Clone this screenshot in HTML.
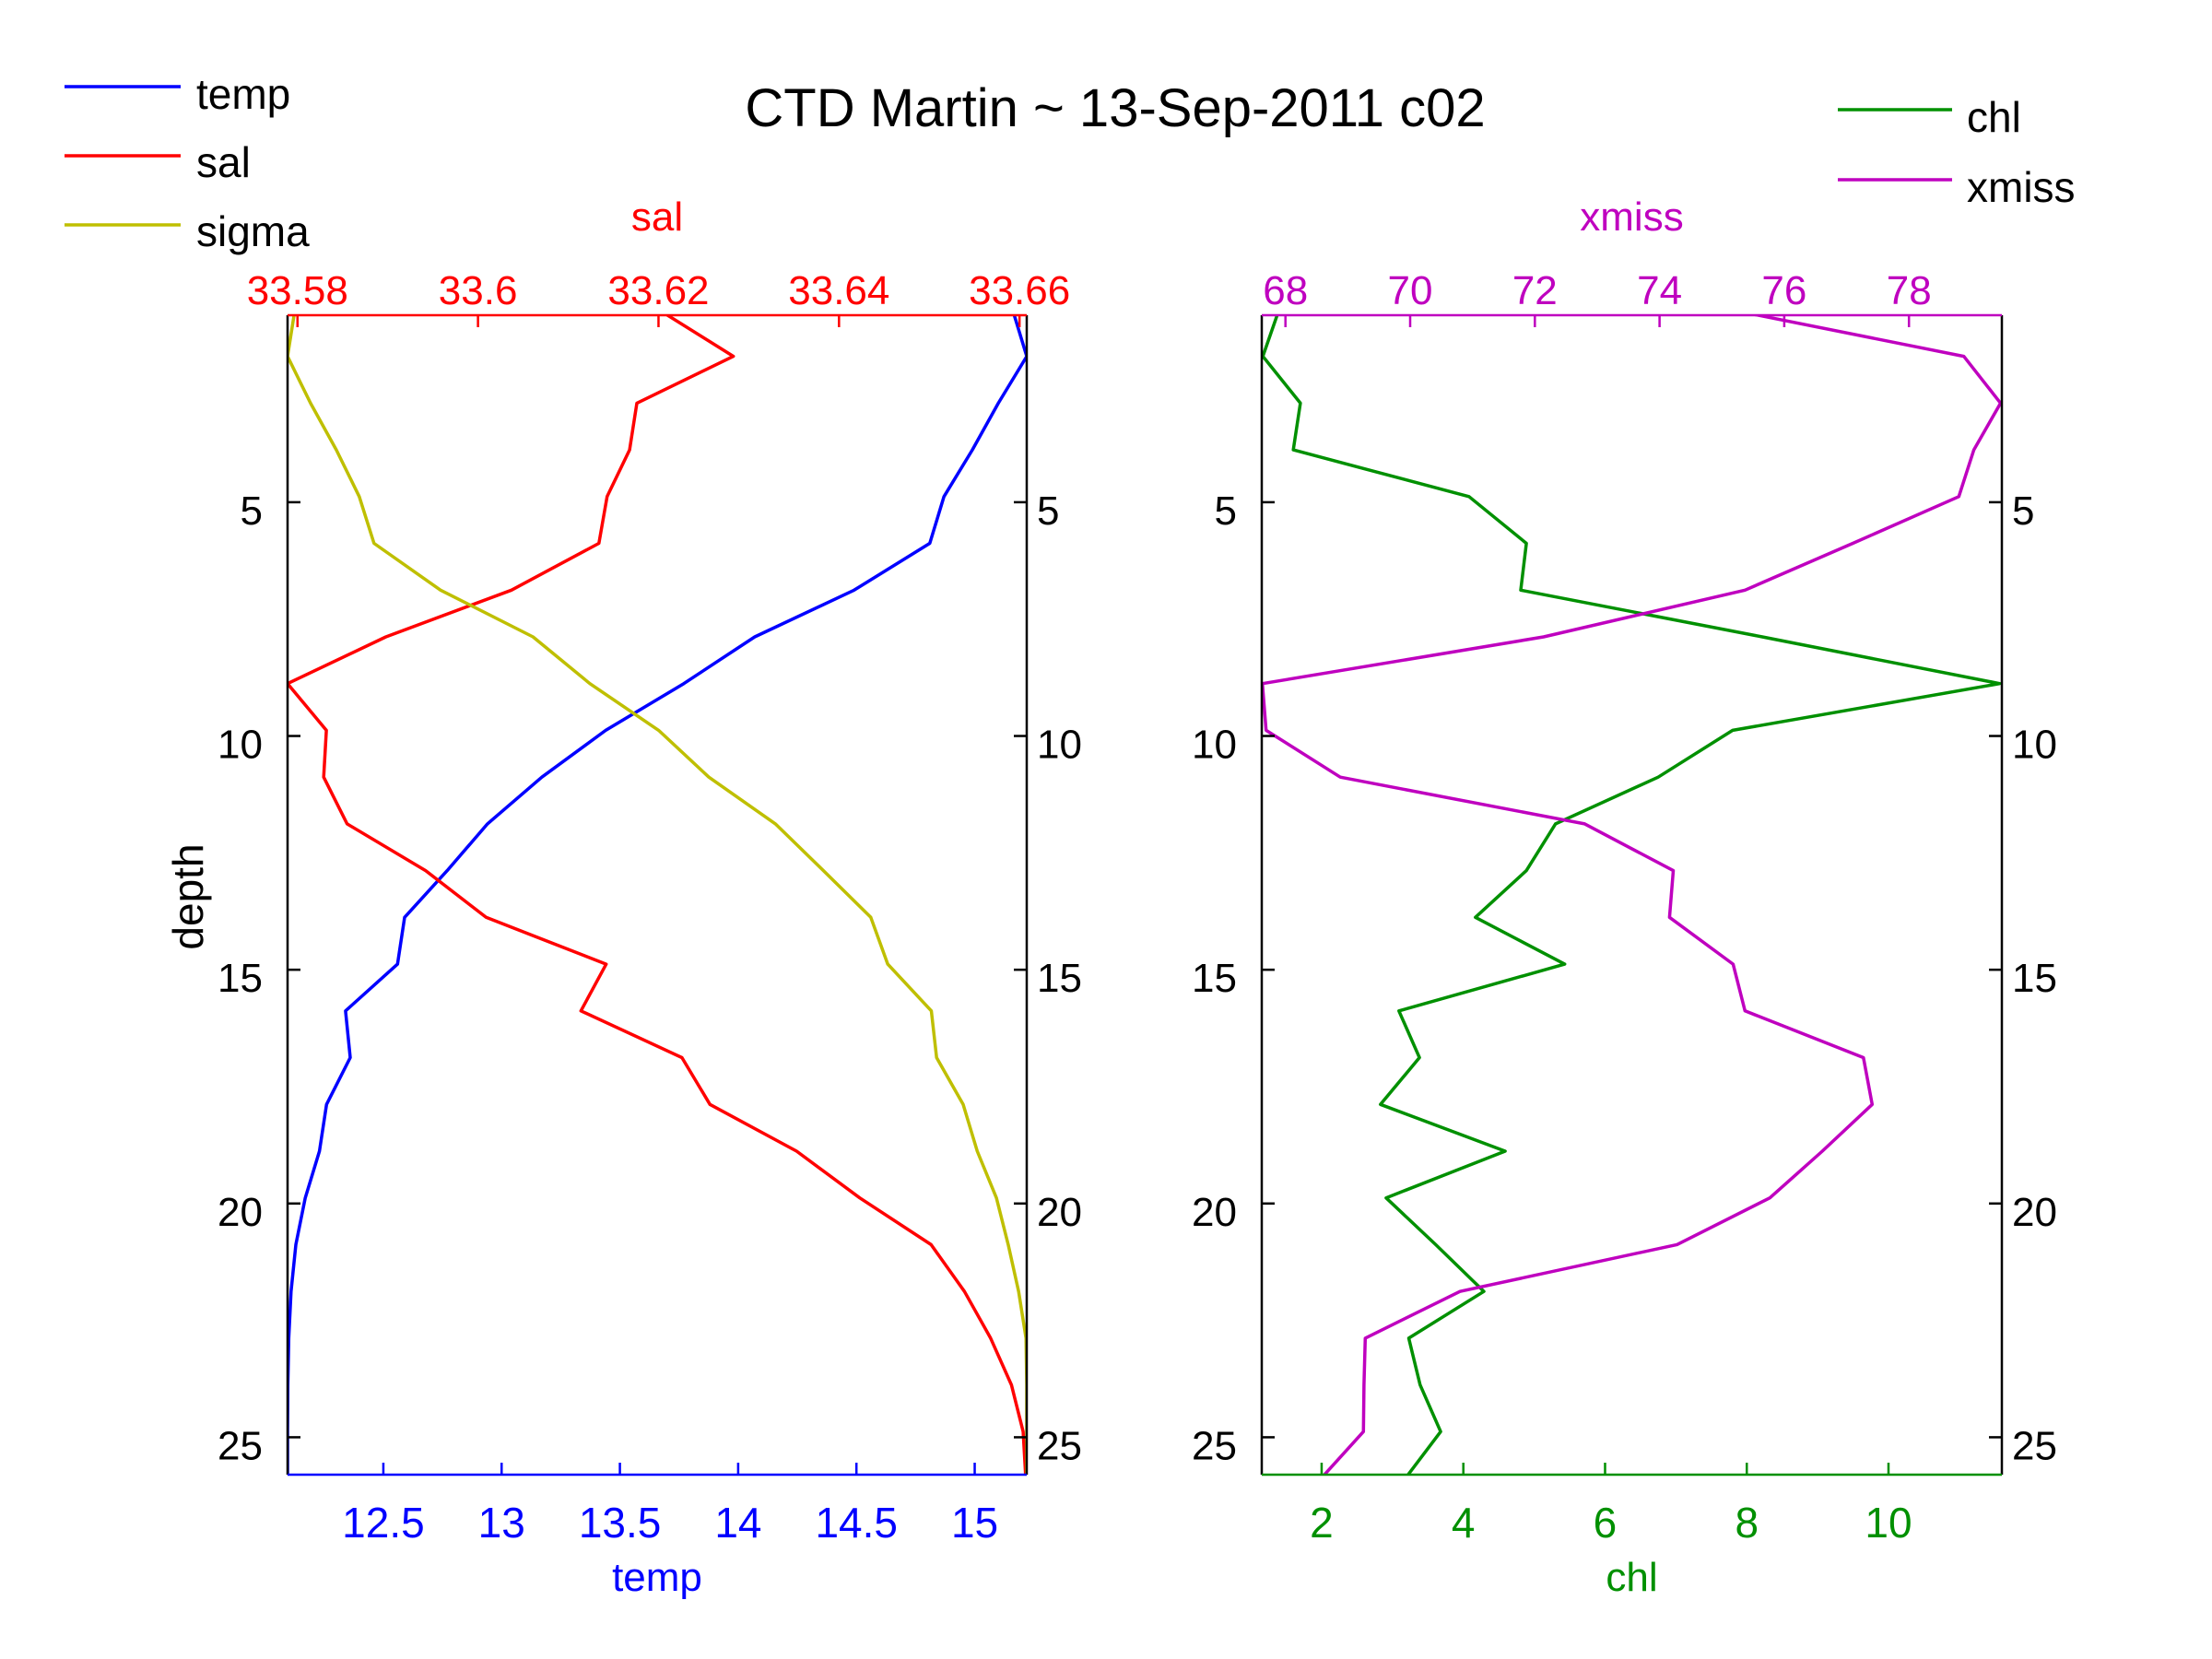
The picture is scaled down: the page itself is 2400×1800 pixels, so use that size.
<!DOCTYPE html>
<html><head><meta charset="utf-8"><style>
html,body{margin:0;padding:0;background:#fff;}
svg{display:block;font-family:"Liberation Sans",sans-serif;}
</style></head><body>
<svg id="chart" width="2400" height="1800" viewBox="0 0 2400 1800" xmlns="http://www.w3.org/2000/svg">
<rect width="2400" height="1800" fill="#fff"/>
<text x="1210" y="137" font-size="58" text-anchor="middle" fill="#000">CTD Martin ~ 13-Sep-2011 c02</text>
<g>
<line x1="70" y1="94" x2="196" y2="94" stroke="#0000ff" stroke-width="3.5"/>
<text x="213" y="118" font-size="46">temp</text>
<line x1="70" y1="169" x2="196" y2="169" stroke="#ff0000" stroke-width="3.5"/>
<text x="213" y="192" font-size="46">sal</text>
<line x1="70" y1="244" x2="196" y2="244" stroke="#bfbf00" stroke-width="3.5"/>
<text x="213" y="267" font-size="46">sigma</text>
</g>
<g>
<line x1="1994" y1="119" x2="2118" y2="119" stroke="#009000" stroke-width="3.5"/>
<text x="2134" y="143" font-size="46">chl</text>
<line x1="1994" y1="195" x2="2118" y2="195" stroke="#bf00bf" stroke-width="3.5"/>
<text x="2134" y="219" font-size="46">xmiss</text>
</g>
<text transform="translate(220,973) rotate(-90)" font-size="46" text-anchor="middle">depth</text>
<g id="plots"></g>
</svg>
<script>
const depthIdx = [1,2,3,4,5,6,7,8,9,10,11,12,13,14,15,16,17,18,19,20,21,22,23,24,25,26];
const temp = [15.16,15.22,15.10,14.99,14.87,14.81,14.49,14.07,13.77,13.44,13.17,12.94,12.77,12.59,12.56,12.34,12.36,12.26,12.23,12.17,12.13,12.11,12.10,12.096,12.095,12.095];
const sal = [33.6200,33.6283,33.6176,33.6168,33.6143,33.6134,33.6037,33.5898,33.5789,33.5832,33.5829,33.5855,33.5942,33.6009,33.6142,33.6114,33.6226,33.6257,33.6353,33.6423,33.6502,33.6539,33.6568,33.6591,33.6604,33.6607];
const sigma = [0.01,0,0.031,0.066,0.097,0.117,0.207,0.332,0.409,0.502,0.57,0.66,0.725,0.789,0.812,0.871,0.878,0.914,0.933,0.959,0.975,0.989,0.999,1.0,1.0,1.0];
const chl = [1.40,1.17,1.70,1.60,4.08,4.89,4.81,8.22,11.57,7.80,6.75,5.30,4.89,4.17,5.43,3.09,3.38,2.83,4.59,2.91,3.61,4.29,3.23,3.39,3.68,3.18];
const xmiss = [75.13,78.88,79.47,79.04,78.80,77.10,75.37,72.14,67.63,67.69,68.88,72.80,74.22,74.16,75.18,75.37,77.27,77.41,76.61,75.77,74.28,70.80,69.28,69.26,69.25,68.57];
const depthTicks = [5,10,15,20,25];
const salTicks = ["33.58","33.6","33.62","33.64","33.66"];
const tempTicks = ["12.5","13","13.5","14","14.5","15"];
const xmissTicks = ["68","70","72","74","76","78"];
const chlTicks = ["2","4","6","8","10"];

const NS = "http://www.w3.org/2000/svg";
const TOP = 342, BOT = 1600, D0 = 1, D1 = 25.8;
const yScale = d => TOP + (d - D0) / (D1 - D0) * (BOT - TOP);
const depth = depthIdx.map(k => k - 0.12);
const root = document.getElementById('plots');
function mk(tag, attrs, parent) {
  const e = document.createElementNS(NS, tag);
  for (const k in attrs) e.setAttribute(k, attrs[k]);
  (parent || root).appendChild(e);
  return e;
}
function panel(name, L, R, topAx, botAx, s1, s2, s3) {
  const g = mk('g', {});
  
  
  const clipId = name + '-clip';
  const cp = mk('clipPath', {id: clipId}, g);
  mk('rect', {x: L, y: TOP, width: R - L, height: BOT - TOP}, cp);
  const series = [s1, s2, s3].filter(Boolean);
  series.forEach(s => {
    const pts = s.vals.map((v, i) => (L + (v - s.lo) / (s.hi - s.lo) * (R - L)).toFixed(1) + ',' + yScale(depth[i]).toFixed(1)).join(' ');
    const pl = mk('polyline', {points: pts, fill: 'none', stroke: s.color, 'stroke-width': 3.5, 'stroke-linejoin': 'round', 'clip-path': 'url(#' + clipId + ')'}, g);
    
    
  });
  const la = mk('line', {x1: L, y1: TOP, x2: L, y2: BOT, stroke: '#000', 'stroke-width': 2.5}, g);
  
  
  const ra = mk('line', {x1: R, y1: TOP, x2: R, y2: BOT, stroke: '#000', 'stroke-width': 2.5}, g);
  
  
  depthTicks.forEach(d => {
    const y = yScale(d);
    mk('line', {x1: L, y1: y, x2: L + 14, y2: y, stroke: '#000', 'stroke-width': 2.5}, g);
    mk('line', {x1: R, y1: y, x2: R - 14, y2: y, stroke: '#000', 'stroke-width': 2.5}, g);
    const t1 = mk('text', {x: L - 27, y: y + 24, 'font-size': 44, 'text-anchor': 'end'}, g);
    t1.textContent = d;
    
    
    const t2 = mk('text', {x: R + 11, y: y + 24, 'font-size': 44}, g);
    t2.textContent = d;
    
    
  });
  [[topAx, TOP, 1], [botAx, BOT, -1]].forEach(([ax, y, dir]) => {
    const al = mk('line', {x1: L, y1: y, x2: R, y2: y, stroke: ax.color, 'stroke-width': 2.5}, g);
    
    
    ax.ticks.forEach(tk => {
      const x = L + (parseFloat(tk) - ax.lo) / (ax.hi - ax.lo) * (R - L);
      mk('line', {x1: x, y1: y, x2: x, y2: y + dir * 13, stroke: ax.color, 'stroke-width': 2.5}, g);
      const t = mk('text', {x: x, y: dir > 0 ? y - 12 : y + 68, 'font-size': dir > 0 ? 44 : 46, 'text-anchor': 'middle', fill: ax.color}, g);
      t.textContent = tk;
      
      
    });
    const tt = mk('text', {x: (L + R) / 2, y: dir > 0 ? 250 : 1726, 'font-size': 44, 'text-anchor': 'middle', fill: ax.color}, g);
    tt.textContent = ax.name;
    
    
  });
}
panel('left-panel', 312, 1114,
  {name: 'sal', color: '#ff0000', lo: 33.5789, hi: 33.6608, ticks: salTicks},
  {name: 'temp', color: '#0000ff', lo: 12.095, hi: 15.22, ticks: tempTicks},
  {name: 'temp', vals: temp, lo: 12.095, hi: 15.22, color: '#0000ff'},
  {name: 'sal', vals: sal, lo: 33.5789, hi: 33.6608, color: '#ff0000'},
  {name: 'sigma', vals: sigma, lo: 0, hi: 1, color: '#bfbf00'});
panel('right-panel', 1369, 2172,
  {name: 'xmiss', color: '#bf00bf', lo: 67.62, hi: 79.49, ticks: xmissTicks},
  {name: 'chl', color: '#009000', lo: 1.155, hi: 11.6, ticks: chlTicks},
  {name: 'chl', vals: chl, lo: 1.155, hi: 11.6, color: '#009000'},
  {name: 'xmiss', vals: xmiss, lo: 67.62, hi: 79.49, color: '#bf00bf'});
</script>
</body></html>
